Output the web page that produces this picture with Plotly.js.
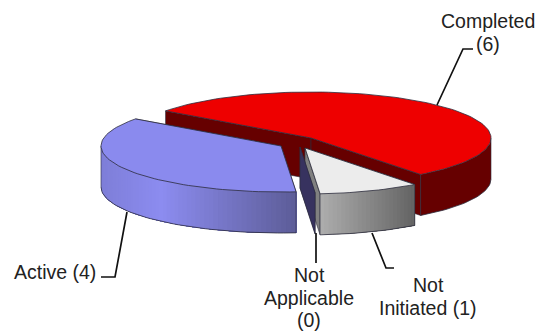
<!DOCTYPE html>
<html><head><meta charset="utf-8">
<script src="https://cdn.plot.ly/plotly-3.0.1.min.js"></script>
<style>html,body{margin:0;padding:0;background:#fff}#c{width:539px;height:331px}</style>
</head><body><div id="c"></div>
<script>
// --- data
const categories = ["Completed", "Not Initiated", "Not Applicable", "Active"];
const values = [6, 1, 0, 4];
const labelLines = [["Completed", "(6)"], ["Not", "Initiated (1)"], ["Not", "Applicable", "(0)"], ["Active (4)"]];

// --- styling / layout
const topColors = ["#ee0000", "#ececec", "#8a8aee", "#8a8aee"];
const innerColors = ["#660000", "#808080", "#37325f", "#37325f"];
const explodeX = [0, -6, -11, -30];
const explodeY = [0, 10, 9, 8];
const startDeg = 143.9;
const cx = 311, cy = 138, rx = 180, ry = 46, depth = 41;
const labelX = [488, 428, 309, 55];
const labelY = [21, 285, 275, 272];
const lineStep = 22.5;
const leaderX = [[437, 463, 473], [372, 386, 394], [316, 316], [127, 115, 101]];
const leaderY = [[105, 49, 49], [233, 268, 268], [233, 263], [212, 277, 277]];
const edge = "#2c2c3c";

function pt(tDeg, dx, dy, z) {
  const t = tDeg * Math.PI / 180;
  return [cx + dx + rx * Math.cos(t), cy + dy - ry * Math.sin(t) + (z || 0)];
}
function poly(pts, fill, line, w) {
  return {type: "scatter", mode: "lines", x: pts.map(p => p[0]).concat(pts[0][0]),
    y: pts.map(p => p[1]).concat(pts[0][1]), fill: "toself", fillcolor: fill,
    line: {color: line || fill, width: w === undefined ? 0.6 : w},
    hoverinfo: "skip", showlegend: false};
}
function open(pts, color, w) {
  return {type: "scatter", mode: "lines", x: pts.map(p => p[0]), y: pts.map(p => p[1]),
    line: {color: color, width: w}, hoverinfo: "skip", showlegend: false};
}
function mix(a, b, f) {
  return "rgb(" + a.map((v, i) => Math.round(v + (b[i] - v) * f)).join(",") + ")";
}
function arc(a0, a1, dx, dy, z) {
  const out = [], n = Math.max(2, Math.ceil(Math.abs(a1 - a0) / 2));
  for (let i = 0; i <= n; i++) out.push(pt(a0 + (a1 - a0) * i / n, dx, dy, z));
  return out;
}
// shade of the outer wall at position f (0 = left of the arc, 1 = right)
const wallShade = [
  f => "#660000",
  f => mix([172,172,172], [98,98,98], f),
  f => "#37325f",
  f => f < 0.3 ? mix([126,126,216], [140,140,240], f / 0.3) : mix([140,140,240], [92,92,150], (f - 0.3) / 0.7)
];
const wallSteps = [1, 24, 1, 60];

const total = values.reduce((a, b) => a + b, 0);
const slices = [];
let ang = startDeg;
values.forEach((v, i) => { const s = ang, e = ang - v / total * 360; slices.push([s, e]); ang = e; });

const traces = [];
function drawInner(i) {
  const [s, e] = slices[i], dx = explodeX[i], dy = explodeY[i];
  const apex = [cx + dx, cy + dy];
  [s, e].forEach(a => {
    const p = pt(a, dx, dy);
    traces.push(poly([apex, p, [p[0], p[1] + depth], [apex[0], apex[1] + depth]], innerColors[i], edge, 0.6));
  });
}
function drawOuter(i) {
  const [s, e] = slices[i], dx = explodeX[i], dy = explodeY[i];
  const apex = [cx + dx, cy + dy];
  if (values[i] === 0) return;
  // outer wall, front half only; each band overlaps everything to its right so no seams show
  const a0 = Math.min(s, e), a1 = Math.max(s, e);
  const lo = Math.max(a0, -180), hi = Math.min(a1, 0);
  if (hi > lo) {
    const xLo = pt(lo, dx, dy)[0], xHi = pt(hi, dx, dy)[0];
    const n = wallSteps[i];
    for (let k = 0; k < n; k++) {
      const t0 = lo + (hi - lo) * k / n;
      const topArc = arc(t0, hi, dx, dy);
      const botArc = arc(hi, t0, dx, dy, depth);
      const f = (pt(t0, dx, dy)[0] - xLo) / (xHi - xLo);
      traces.push(poly(topArc.concat(botArc), wallShade[i](f), null, 0));
    }
    traces.push(open(arc(lo, hi, dx, dy, depth), edge, 0.8));
    [lo, hi].forEach(a => { const p = pt(a, dx, dy); traces.push(open([p, [p[0], p[1] + depth]], edge, 0.6)); });
  }
  // top face
  traces.push(poly([apex].concat(arc(s, e, dx, dy)), topColors[i], edge, 0.8));
}
// painter's order: back to front
drawInner(0); drawOuter(0);
drawInner(1); drawInner(2); drawOuter(1);
drawInner(3); drawOuter(3);

// leaders
leaderX.forEach((xs, i) => traces.push(open(xs.map((x, k) => [x, leaderY[i][k]]), "#111", 1.7)));

const annotations = [];
labelLines.forEach((lines, i) => lines.forEach((t, k) => annotations.push({
  x: labelX[i], y: labelY[i] + k * lineStep, xref: "x", yref: "y", text: t, showarrow: false,
  xanchor: "center", yanchor: "middle",
  font: {family: "Liberation Sans, Arial, sans-serif", size: 19.5, color: "#222"}
})));

Plotly.newPlot("c", traces, {
  width: 539, height: 331, margin: {l: 0, r: 0, t: 0, b: 0},
  paper_bgcolor: "#fff", plot_bgcolor: "#fff", showlegend: false,
  xaxis: {range: [0, 539], visible: false, fixedrange: true},
  yaxis: {range: [331, 0], visible: false, fixedrange: true},
  annotations: annotations
}, {displayModeBar: false, staticPlot: true});
</script></body></html>
